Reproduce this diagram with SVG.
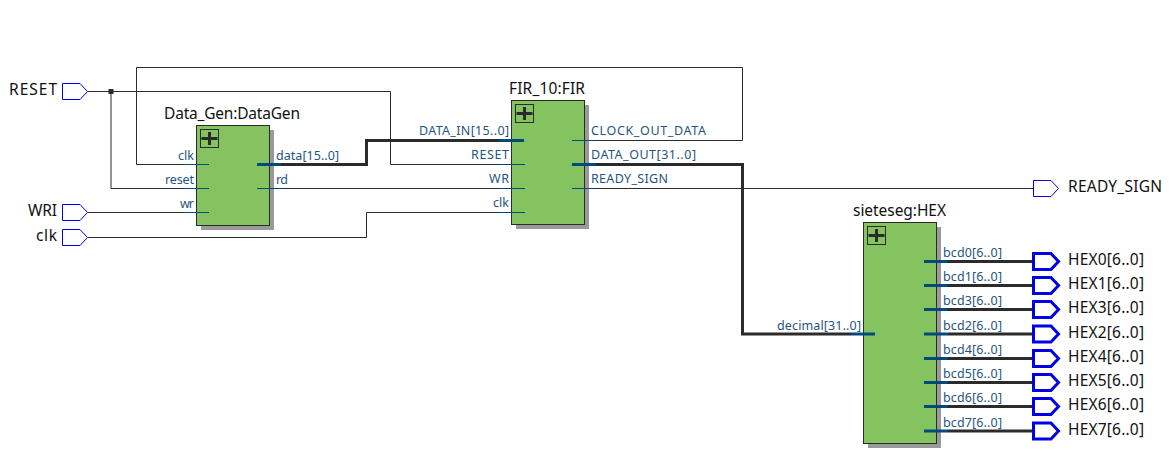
<svg xmlns="http://www.w3.org/2000/svg" width="1170" height="471" viewBox="0 0 1170 471">
<defs>
<style>
text{font-family:"Noto Sans","DejaVu Sans",sans-serif}
.w{fill:none;stroke:#2b2b2b;stroke-width:1}
.b{fill:none;stroke:#2b2b2b;stroke-width:3}
.s{stroke:#004a7c;stroke-width:1;fill:none}
.sb{stroke:#004a7c;stroke-width:3;fill:none}
.pl{font-size:12.500px;fill:#1f5580}
.e{text-anchor:end}
.n{font-size:15.500px;fill:#111}
.box{fill:#85c260;stroke:#2b2b2b;stroke-width:1}
.sh{fill:#999}
.ic{fill:none;stroke:#2b2b2b;stroke-width:1}
.plus{stroke:#2b2b2b;stroke-width:3;fill:none}
.io{fill:#fff;stroke:#0000e6;stroke-width:1}
.iob{fill:#fff;stroke:#0000e6;stroke-width:3}
</style>
<g id="icon"><rect class="ic" x="0.5" y="0.5" width="18" height="18"/><path class="plus" d="M1.500 9.500H17.500M9.500 3V16"/></g>
<path id="pin" d="M0 0H17.500L25 8L17.500 16H0Z"/>
</defs>
<g id="connectors">
<path class="w" d="M185 164.500H136.500V67.500H742.500V140.500H596"/>
<path class="w" d="M88 91.500H390.500V164.500H499"/>
<path class="w" d="M111 91.500V188.500H185"/>
<path class="w" d="M281 188.500H499M596 188.500H1033"/>
<path class="w" d="M88 212.500H185"/>
<path class="w" d="M88 237.500H366.500V212.500H499"/>
<path class="b" d="M281 164.500H366.500V140.500H499"/>
<path class="b" d="M596 164.500H742.500V334H851"/>
<path class="b" d="M948 261.500H1033M948 285.500H1033M948 309.500H1033M948 334H1033M948 358.500H1033M948 382.500H1033M948 406.500H1033M948 431H1033"/>
<rect x="108.500" y="89" width="5" height="5" fill="#2b2b2b"/>
</g>
<g id="RESET"><use href="#pin" class="io" x="62.500" y="83.500"/><text class="n e" x="57" y="95" textLength="48">RESET</text></g>
<g id="WRI"><use href="#pin" class="io" x="62.500" y="204.500"/><text class="n e" x="57" y="216" textLength="29">WRI</text></g>
<g id="clk"><use href="#pin" class="io" x="62.500" y="229.500"/><text class="n e" x="57" y="241" textLength="21">clk</text></g>
<g id="DataGen">
<rect class="sh" x="201" y="130" width="73" height="100"/>
<rect class="box" x="196.500" y="125.500" width="73" height="100"/>
<use href="#icon" x="200" y="129"/>
<text class="n" x="164" y="119" textLength="136">Data_Gen:DataGen</text>
<path class="s" d="M185 164.500H209M185 188.500H209M185 212.500H209M257 188.500H281"/>
<path class="sb" d="M257 164.500H281"/>
<text class="pl e" x="194" y="160" textLength="16">clk</text>
<text class="pl e" x="194" y="184" textLength="29">reset</text>
<text class="pl e" x="194" y="208" textLength="14">wr</text>
<text class="pl" x="276" y="160" textLength="63">data[15..0]</text>
<text class="pl" x="276" y="184" textLength="12">rd</text>
</g>
<g id="FIR">
<rect class="sh" x="516" y="105" width="73" height="124"/>
<rect class="box" x="511.500" y="100.500" width="73" height="124"/>
<use href="#icon" x="515" y="104"/>
<text class="n" x="509" y="94" textLength="76">FIR_10:FIR</text>
<path class="s" d="M499 164.500H525M499 188.500H525M499 212.500H525M572 140.500H596M572 188.500H596"/>
<path class="sb" d="M499 140.500H524M572 164.500H596"/>
<text class="pl e" x="509" y="135" textLength="90">DATA_IN[15..0]</text>
<text class="pl e" x="509" y="159" textLength="38">RESET</text>
<text class="pl e" x="509" y="183" textLength="20">WR</text>
<text class="pl e" x="509" y="207" textLength="16">clk</text>
<text class="pl" x="591" y="135" textLength="115">CLOCK_OUT_DATA</text>
<text class="pl" x="591" y="159" textLength="105">DATA_OUT[31..0]</text>
<text class="pl" x="591" y="183" textLength="77">READY_SIGN</text>
</g>
<g id="HEX">
<rect class="sh" x="868" y="227" width="73" height="221"/>
<rect class="box" x="863.500" y="222.500" width="73" height="221"/>
<use href="#icon" x="867" y="226"/>
<text class="n" x="853" y="216" textLength="93">sieteseg:HEX</text>
<path class="sb" d="M851 334H875M924 261.500H948M924 285.500H948M924 309.500H948M924 334H948M924 358.500H948M924 382.500H948M924 406.500H948M924 431H948"/>
<text class="pl e" x="861" y="330" textLength="84">decimal[31..0]</text>
<text class="pl" x="943" y="257" textLength="59">bcd0[6..0]</text>
<text class="pl" x="943" y="281" textLength="59">bcd1[6..0]</text>
<text class="pl" x="943" y="305" textLength="59">bcd3[6..0]</text>
<text class="pl" x="943" y="330" textLength="59">bcd2[6..0]</text>
<text class="pl" x="943" y="354" textLength="59">bcd4[6..0]</text>
<text class="pl" x="943" y="378" textLength="59">bcd5[6..0]</text>
<text class="pl" x="943" y="402" textLength="59">bcd6[6..0]</text>
<text class="pl" x="943" y="427" textLength="59">bcd7[6..0]</text>
</g>
<g id="READY_SIGN"><use href="#pin" class="io" x="1033.500" y="180.500"/><text class="n" x="1068" y="192" textLength="94">READY_SIGN</text></g>
<g id="HEX0"><use href="#pin" class="iob" x="1033.500" y="253.500"/><text class="n" x="1068" y="265" textLength="76">HEX0[6..0]</text></g>
<g id="HEX1"><use href="#pin" class="iob" x="1033.500" y="277.500"/><text class="n" x="1068" y="289" textLength="76">HEX1[6..0]</text></g>
<g id="HEX3"><use href="#pin" class="iob" x="1033.500" y="301.500"/><text class="n" x="1068" y="313" textLength="76">HEX3[6..0]</text></g>
<g id="HEX2"><use href="#pin" class="iob" x="1033.500" y="326"/><text class="n" x="1068" y="338" textLength="76">HEX2[6..0]</text></g>
<g id="HEX4"><use href="#pin" class="iob" x="1033.500" y="350.500"/><text class="n" x="1068" y="362" textLength="76">HEX4[6..0]</text></g>
<g id="HEX5"><use href="#pin" class="iob" x="1033.500" y="374.500"/><text class="n" x="1068" y="386" textLength="76">HEX5[6..0]</text></g>
<g id="HEX6"><use href="#pin" class="iob" x="1033.500" y="398.500"/><text class="n" x="1068" y="410" textLength="76">HEX6[6..0]</text></g>
<g id="HEX7"><use href="#pin" class="iob" x="1033.500" y="423"/><text class="n" x="1068" y="435" textLength="76">HEX7[6..0]</text></g>
</svg>
